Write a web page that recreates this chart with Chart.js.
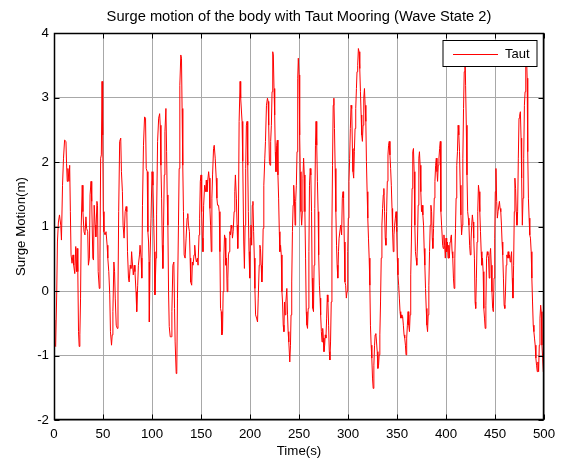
<!DOCTYPE html>
<html>
<head>
<meta charset="utf-8">
<script src="https://cdn.jsdelivr.net/npm/chart.js@4.4.1/dist/chart.umd.min.js"></script>
<style>
html,body{margin:0;padding:0;background:#fff;}
</style>
</head>
<body>
<canvas id="surge-plot" width="566" height="461"></canvas>
<script>
'use strict';

const chartTitle = 'Surge motion of the body with Taut Mooring (Wave State 2)';
const xLabel = 'Time(s)';
const yLabel = 'Surge Motion(m)';
const seriesName = 'Taut';
const lineColor = '#ff0000';
const xTicks = [0, 50, 100, 150, 200, 250, 300, 350, 400, 450, 500];
const yTicks = [-2, -1, 0, 1, 2, 3, 4];

// 0 - 100 s
const tSeg1 = [0,0.7,1.7,2.8,3.5,4.5,5.6,6.9,7.6,8.7,
  9.7,10.8,12.2,12.8,13.5,14.2,15.3,16.0,16.7,17.4,
  18.4,19.4,20.1,21.2,22.2,22.9,23.6,24.3,25.0,25.7,
  26.4,27.1,27.8,28.8,29.5,30.6,31.6,32.6,33.3,34.4,
  35.1,36.1,36.8,37.8,38.5,39.6,40.3,41.0,42.0,42.7,
  43.8,44.4,45.1,46.2,46.9,47.6,48.3,49.0,49.7,50.3,
  51.0,52.1,53.1,54.2,54.9,55.9,56.9,57.6,58.7,59.4,
  60.1,61.1,61.8,62.5,63.5,64.6,65.3,66.0,67.0,68.1,
  68.8,69.8,70.5,71.5,72.6,73.6,74.3,75.0,76.0,76.7,
  77.8,78.5,79.2,79.9,80.9,81.9,82.6,83.7,84.4,85.4,
  86.1,87.2,87.8,88.9,89.6,90.3,91.3,92.4,93.4,94.1,
  95.1,95.8,96.5,97.0];
const surgeSeg1 = [-0.45,-0.84,-0.86,-0.01,0.76,1.07,1.18,1.02,0.79,1.64,
  2.06,2.34,2.32,1.98,1.70,1.90,1.70,1.95,1.23,0.56,
  0.43,0.56,0.40,0.27,0.69,0.30,0.66,0.30,-0.63,-0.86,
  -0.68,-0.11,1.02,1.64,1.23,0.92,0.87,1.15,0.97,0.92,
  0.40,0.51,1.49,1.70,1.39,0.51,0.48,1.33,1.02,0.84,
  1.39,1.33,0.30,0.04,0.51,2.06,2.11,3.25,2.42,1.23,
  0.92,0.87,0.92,0.71,0.51,0.30,-0.06,-0.63,-0.84,-0.68,
  -0.32,0.45,0.30,-0.11,-0.53,-0.58,-0.01,1.23,2.32,2.37,
  1.85,1.54,1.02,0.82,1.23,1.31,1.23,0.61,0.20,0.14,
  0.40,0.35,0.61,0.45,0.25,0.40,0.30,-0.01,-0.32,0.09,
  0.40,0.56,0.71,0.51,0.20,1.33,2.26,2.70,2.68,1.90,
  1.85,0.92,0.76,0.45];

// 100 - 190 s
const tSeg2 = [97.3,98.0,99.0,100.0,101.0,101.7,102.4,103.0,104.1,104.7,
  105.7,106.8,107.8,108.4,109.1,109.8,110.5,111.1,111.8,112.5,
  113.2,114.2,114.9,115.5,116.2,116.9,117.6,118.6,119.6,120.3,
  121.3,122.3,123.0,123.6,124.7,125.3,126.0,127.0,127.7,128.4,
  129.4,130.1,130.7,131.4,132.1,132.8,133.8,134.8,135.8,136.5,
  137.2,138.2,138.9,139.5,140.5,141.2,141.9,142.9,143.6,144.6,
  145.3,146.3,147.0,148.0,148.6,149.3,150.0,150.7,151.4,152.0,
  152.7,153.7,154.7,155.4,156.1,156.8,157.8,158.4,159.1,159.8,
  160.5,161.1,161.8,162.8,163.5,164.5,165.5,166.2,166.9,167.9,
  168.6,169.3,169.9,170.6,171.3,172.0,172.6,173.3,174.0,174.7,
  175.3,176.0,176.7,177.4,178.0,178.7,179.4,180.1,180.7,181.4,
  182.1,182.8,183.8,184.5,185.1,186.1,186.8,187.5,188.2,188.9,
  189.9,190.5];
const surgeSeg2 = [-0.48,0.51,1.13,1.85,1.64,1.13,0.61,-0.06,0.51,1.18,
  2.32,2.68,2.75,2.57,1.95,1.44,0.71,0.35,1.02,1.80,
  2.47,2.83,2.16,1.49,1.02,-0.01,-0.55,-0.71,-0.71,-0.32,
  0.40,0.45,-0.27,-0.79,-1.28,-1.25,-0.11,1.02,1.90,3.19,
  3.66,3.61,2.83,1.95,1.23,0.56,0.51,0.82,1.13,1.20,
  1.02,0.92,0.51,0.14,0.09,0.45,0.40,0.56,0.71,0.51,
  0.45,0.51,0.40,0.87,1.13,1.70,1.80,1.23,0.82,0.61,
  1.33,1.64,1.54,1.72,1.54,1.70,1.85,1.75,1.28,1.02,
  0.61,1.44,1.80,2.21,2.26,2.06,1.75,1.44,1.33,1.33,
  1.23,0.61,-0.27,-0.32,-0.68,-0.63,-0.01,0.51,0.87,0.82,
  0.40,0.51,-0.01,0.20,0.56,0.61,0.92,0.87,1.02,0.97,
  0.82,0.92,1.23,1.54,1.80,1.44,1.02,0.66,1.07,2.63,
  3.25,2.99];

// 190 - 291 s
const tSeg3 = [191.9,192.6,193.6,194.3,195.0,195.6,196.3,197.0,197.7,198.3,
  199.0,199.7,200.3,201.0,201.7,202.3,203.0,203.7,204.4,205.0,
  205.7,206.7,207.7,208.4,209.4,210.1,210.7,211.4,212.1,212.8,
  213.4,214.1,215.1,215.8,216.8,217.8,218.5,219.1,219.8,220.5,
  221.1,221.8,222.5,223.2,223.8,224.5,225.2,225.8,226.5,227.2,
  227.9,228.5,229.2,229.9,230.5,231.2,231.9,232.6,233.2,233.9,
  234.6,235.2,235.9,236.6,237.6,238.3,238.9,239.6,240.6,241.3,
  241.9,242.6,243.3,244.0,244.6,245.3,246.0,246.6,247.3,248.0,
  248.7,249.3,250.0,250.7,251.3,252.0,252.7,253.4,254.0,254.7,
  255.4,256.0,256.7,257.4,258.1,258.7,259.4,260.1,260.7,261.4,
  262.1,262.8,263.4,264.1,264.8,265.4,266.1,266.8,267.4,268.1,
  268.8,269.5,270.1,270.8,271.5,272.1,272.8,273.5,274.2,274.8,
  275.5,276.2,276.8,277.5,278.2,278.9,279.5,280.2,280.9,281.5,
  282.2,282.9,283.6,284.2,284.9,285.6,286.2,286.9,287.6,288.3,
  288.9,289.6,290.3,290.9];
const surgeSeg3 = [2.63,2.01,0.76,0.35,1.02,1.90,2.57,2.63,1.95,1.23,
  0.61,0.20,0.82,1.02,0.71,1.33,1.39,0.92,0.51,0.04,
  -0.37,-0.42,-0.48,-0.11,0.40,0.71,0.66,0.40,0.14,0.40,
  0.97,1.64,2.06,2.32,2.88,2.99,2.94,2.57,2.01,1.95,
  2.32,2.57,3.09,3.71,3.66,3.14,2.73,2.16,1.85,2.26,
  2.34,1.80,1.44,0.92,0.61,0.71,0.56,-0.01,-0.17,-0.53,
  -0.63,-0.17,-0.37,-0.17,0.04,-0.37,-0.63,-0.79,-1.10,-0.84,
  -0.37,0.14,0.92,1.33,1.64,1.44,1.02,1.39,1.64,2.16,
  3.30,3.61,3.35,2.42,1.85,1.23,1.02,1.23,1.75,2.06,
  1.80,1.23,0.51,-0.32,-0.53,-0.58,-0.27,0.61,1.64,1.90,
  1.80,1.23,0.20,-0.27,-0.32,0.40,1.28,2.26,2.63,2.26,
  1.70,1.23,0.56,0.09,-0.11,-0.37,-0.63,-0.79,-0.58,-0.73,
  -0.94,-0.84,-0.68,-0.73,-0.42,-0.06,-0.17,-0.53,-0.94,-1.07,
  -0.79,-0.17,1.02,1.95,2.88,2.99,2.52,1.90,1.23,0.71,
  0.40,0.20,0.61,0.82];

// 291 - 395 s
const tSeg4 = [292.5,293.5,294.2,294.9,295.5,296.2,296.9,297.6,298.3,299.0,
  299.7,300.3,301.0,301.7,302.4,303.1,303.8,304.5,305.1,305.8,
  306.5,307.2,307.9,308.6,309.2,309.9,310.6,311.3,312.0,312.7,
  313.4,314.0,314.7,315.4,316.1,316.8,317.5,318.2,318.8,319.5,
  320.2,320.9,321.6,322.3,322.9,323.6,324.3,325.0,325.7,326.4,
  327.1,327.7,328.4,329.1,329.8,330.5,331.2,331.8,332.5,333.2,
  333.9,334.6,335.3,336.0,336.6,337.3,338.0,338.7,339.4,340.1,
  340.8,341.4,342.1,342.8,343.5,344.2,344.9,345.5,346.2,346.9,
  347.6,348.3,349.0,349.7,350.3,351.0,351.7,352.4,353.1,353.8,
  354.5,355.1,355.8,356.5,357.2,357.9,358.6,359.2,359.9,360.6,
  361.3,362.0,362.7,363.4,364.0,364.7,365.4,366.1,366.8,367.5,
  368.2,368.8,369.5,370.2,370.9,371.6,372.3,372.9,373.6,374.3,
  375.0,375.7,376.4,377.1,377.7,378.4,379.1,379.8,380.5,381.2,
  381.8,382.5,383.2,383.9,384.6,385.3,386.0,386.6,387.3,388.0,
  388.7,389.4,390.1,390.8,391.4,392.1,392.8,393.5,394.2];
const surgeSeg4 = [1.02,0.87,1.44,1.54,1.44,0.76,0.14,0.09,-0.11,-0.01,
  0.61,1.13,1.70,2.06,2.52,2.88,2.83,2.21,1.85,1.75,
  2.16,2.52,2.83,3.14,3.40,3.50,3.76,3.71,3.45,3.09,
  2.73,2.42,2.32,2.57,2.99,3.14,2.88,2.63,2.01,1.54,
  1.13,0.82,0.51,0.09,-0.53,-0.84,-1.04,-1.35,-1.51,-1.15,
  -0.84,-0.68,-0.66,-0.79,-0.94,-1.20,-1.15,-0.99,-0.68,-0.17,
  0.51,1.02,1.28,1.49,1.59,1.23,0.82,0.71,1.23,1.70,
  2.11,2.26,2.32,2.11,1.90,1.64,1.28,0.92,0.61,0.87,
  1.02,1.13,1.23,0.92,0.51,0.25,0.09,-0.11,-0.32,-0.42,
  -0.37,-0.42,-0.40,-0.53,-0.68,-0.73,-0.84,-0.99,-0.73,-0.53,
  -0.32,-0.53,-0.63,-0.37,0.25,0.76,1.59,2.16,2.21,1.85,
  1.02,0.61,0.51,0.40,0.76,1.33,2.06,2.16,1.95,1.54,
  1.23,1.33,1.18,1.02,0.66,0.40,0.04,-0.27,-0.53,-0.63,
  -0.37,0.09,0.61,1.02,1.33,1.23,0.82,0.66,0.97,1.44,
  1.70,1.95,2.06,1.85,1.70,1.95,2.06,2.21,2.32];

// 395 - 500 s
const tSeg5 = [394.8,395.5,396.6,397.2,397.9,398.6,399.3,400.0,400.7,401.4,
  402.1,402.8,403.4,404.1,404.8,405.5,406.2,406.9,407.6,408.3,
  409.0,409.7,410.3,411.0,411.7,412.4,413.1,413.8,414.5,415.2,
  415.9,416.6,417.2,417.9,418.6,419.3,420.0,420.7,421.4,422.1,
  422.8,423.4,424.1,424.8,425.5,426.2,426.9,427.6,428.3,429.0,
  429.7,430.3,431.0,431.7,432.4,433.1,433.8,434.5,435.2,435.9,
  436.6,437.2,437.9,438.6,439.3,440.0,440.7,441.4,442.1,442.8,
  443.4,444.1,444.8,445.5,446.2,446.9,447.6,448.3,449.0,449.7,
  450.3,451.0,451.7,452.4,453.1,453.8,454.5,455.2,455.9,456.6,
  457.2,457.9,458.6,459.3,460.0,460.7,461.4,462.1,462.8,463.4,
  464.1,464.8,465.5,466.2,466.9,467.6,468.3,469.0,469.7,470.3,
  471.0,471.7,472.4,473.1,473.8,474.5,475.2,475.9,476.6,477.2,
  477.9,478.6,479.3,480.0,480.7,481.4,482.1,482.8,483.4,484.1,
  484.8,485.5,486.2,486.9,487.6,488.3,489.0,489.7,490.3,491.0,
  491.7,492.4,493.1,493.8,494.5,495.2,495.9,496.6,497.2,497.9,
  498.6,499.3,500.0];
const surgeSeg5 = [1.23,1.02,0.71,0.66,0.87,0.71,0.51,0.82,0.61,0.76,
  0.51,0.71,0.51,0.76,0.82,0.87,0.61,0.51,0.20,0.04,
  0.51,0.97,1.44,1.95,2.16,2.57,2.42,2.16,1.64,1.18,
  0.87,1.02,2.06,2.83,3.40,3.81,3.19,2.57,1.80,1.23,
  1.13,1.02,0.71,0.56,0.76,1.02,1.18,1.07,0.82,0.51,
  -0.17,-0.27,0.20,0.76,1.23,1.64,1.54,1.23,0.92,0.61,
  0.40,0.51,0.30,-0.27,-0.42,-0.58,-0.22,0.51,0.61,0.56,
  0.51,0.20,0.56,0.66,0.40,-0.01,-0.27,-0.32,0.20,0.82,
  1.54,1.90,1.39,1.13,1.23,1.23,1.39,1.28,1.23,1.02,
  0.76,0.56,0.20,-0.22,-0.27,-0.01,0.40,0.56,0.51,0.61,
  0.51,0.56,0.45,0.51,0.61,0.20,-0.11,0.40,1.23,1.75,
  1.59,1.23,1.02,1.23,2.06,2.68,2.73,2.78,2.37,1.75,
  1.02,1.44,2.06,2.88,3.09,3.50,3.71,3.30,2.16,1.44,
  1.13,0.87,0.82,0.61,0.20,-0.17,-0.53,-0.63,-0.73,-0.84,
  -1.04,-1.15,-1.25,-1.10,-1.25,-0.84,-0.42,-0.22,-0.32,-0.84,
  -1.04,-1.25,-1.28];

const timeSec = [...tSeg1, ...tSeg2, ...tSeg3, ...tSeg4, ...tSeg5];
const surgeTaut = [...surgeSeg1, ...surgeSeg2, ...surgeSeg3, ...surgeSeg4, ...surgeSeg5];

const FONT = '"Liberation Sans", Arial, Helvetica, sans-serif';

// matlab style box, inward ticks and a legend sitting on top of the line
const matlabAxes = {
  id: 'matlabAxes',
  afterDatasetsDraw(chart){
    const ctx = chart.ctx;
    const ca = chart.chartArea;
    const xs = chart.scales.x, ys = chart.scales.y;
    const L = Math.round(ca.left) + 0.5, R = Math.round(ca.right) - 0.5;
    const T = Math.round(ca.top) + 0.5, B = Math.round(ca.bottom) - 0.5;
    ctx.save();
    ctx.strokeStyle = '#000';
    ctx.lineWidth = 1;
    ctx.beginPath();
    xTicks.forEach((v)=>{
      const px = Math.round(xs.getPixelForValue(v)) + 0.5;
      ctx.moveTo(px, B); ctx.lineTo(px, B - 5);
      ctx.moveTo(px, T); ctx.lineTo(px, T + 5);
    });
    yTicks.forEach((v)=>{
      const py = Math.round(ys.getPixelForValue(v)) + 0.5;
      ctx.moveTo(L, py); ctx.lineTo(L + 5, py);
      ctx.moveTo(R, py); ctx.lineTo(R - 5, py);
    });
    ctx.stroke();
    ctx.lineWidth = 1.5;
    ctx.strokeRect(L, T, R - L, B - T);

    // legend
    const lx = R - 100.5, ly = T + 7, lw = 94, lh = 26;
    ctx.fillStyle = '#fff';
    ctx.fillRect(lx, ly, lw, lh);
    ctx.lineWidth = 1;
    ctx.strokeStyle = '#000';
    ctx.strokeRect(lx, ly, lw, lh);
    const ds = chart.data.datasets[0];
    ctx.beginPath();
    ctx.strokeStyle = lineColor;
    ctx.lineWidth = 1;
    ctx.moveTo(lx + 10, ly + 14);
    ctx.lineTo(lx + 55, ly + 14);
    ctx.stroke();
    ctx.fillStyle = '#000';
    ctx.font = '13px ' + FONT;
    ctx.textBaseline = 'middle';
    ctx.textAlign = 'left';
    ctx.fillText(ds.label, lx + 62, ly + 13.5);
    ctx.restore();
  }
};

let chart = null;

function makePlot(){
  chart = new Chart(document.querySelector('#surge-plot'), {
    type: 'line',
    data: {
      datasets: [{
        label: seriesName,
        data: timeSec.map((t, i)=>({x: t, y: surgeTaut[i]})),
        borderColor: lineColor,
        borderWidth: 1,
        pointRadius: 0,
        tension: 0,
        fill: false
      }]
    },
    options: {
      responsive: false,
      animation: false,
      devicePixelRatio: 1,
      layout: {padding: {left: 0, right: 22, top: 0, bottom: 0}},
      plugins: {
        legend: {display: false},
        tooltip: {enabled: false},
        title: {
          display: true,
          fullSize: false,
          text: chartTitle,
          color: '#000',
          font: {family: FONT, size: 14.7, weight: 'normal'},
          padding: {top: 8, bottom: 7.4}
        }
      },
      scales: {
        x: {
          type: 'linear',
          min: 0, max: 500,
          afterBuildTicks: (s)=>{ s.ticks = xTicks.map((v)=>({value: v})); },
          afterFit: (s)=>{ s.height = 41; },
          grid: {color: '#a8a8a8', drawTicks: false},
          border: {display: false},
          ticks: {color: '#000', padding: 6, maxRotation: 0, autoSkip: false,
            font: {family: FONT, size: 13.3}},
          title: {display: true, text: xLabel, color: '#000',
            font: {family: FONT, size: 13.3}, padding: {top: 0, bottom: 2}}
        },
        y: {
          min: -2, max: 4,
          afterBuildTicks: (s)=>{ s.ticks = yTicks.map((v)=>({value: v})); },
          afterFit: (s)=>{ s.width = 54; },
          grid: {color: '#a8a8a8', drawTicks: false},
          border: {display: false},
          ticks: {color: '#000', padding: 5, font: {family: FONT, size: 13.3}},
          title: {display: true, text: yLabel, color: '#000',
            font: {family: FONT, size: 13.3}, padding: {top: 13, bottom: 0}}
        }
      }
    },
    plugins: [matlabAxes]
  });
}

window.addEventListener('load', ()=>{
  makePlot();
});
</script>
</body>
</html>
